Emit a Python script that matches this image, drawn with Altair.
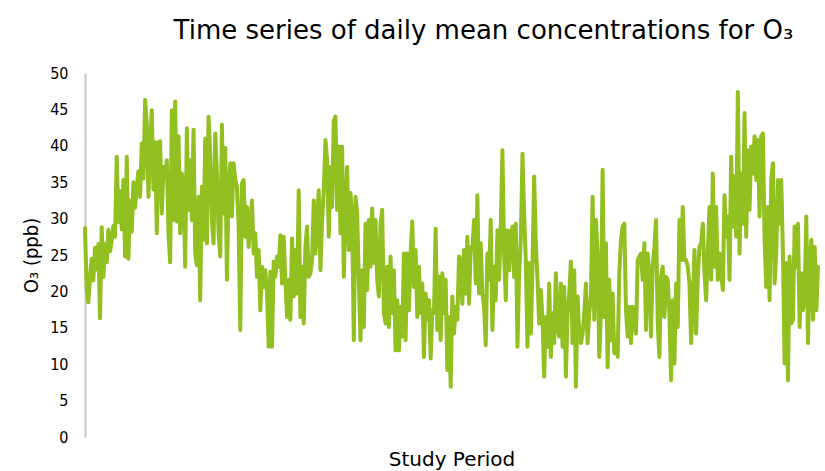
import altair as alt
import pandas as pd

# Daily mean O3 (ppb) over the study period, in order
o3_part1 = [28.7, 20.5, 18.5, 22.0, 24.5, 21.5, 26.0, 23.0, 26.5, 16.3, 28.8, 22.0, 26.5, 24.0, 28.5,
            25.5, 27.0, 29.0, 27.5, 38.5, 29.5, 33.8, 28.5, 35.3, 24.8, 38.5, 24.5, 32.5, 28.2, 35.0,
            31.5, 34.5, 36.5, 33.0, 40.3, 35.5, 46.3, 43.0, 33.0, 40.0, 44.9, 34.0, 40.5, 28.0, 40.5]
o3_part2 = [40.6, 30.7, 37.1, 35.7, 38.0, 28.0, 24.0, 44.9, 29.8, 46.1, 29.6, 41.3, 28.0, 36.2, 34.8,
            23.4, 42.4, 31.2, 38.0, 29.8, 42.2, 25.2, 23.6, 33.0, 18.8, 34.4, 27.1, 41.0, 26.6, 44.0,
            39.0, 29.8, 26.6, 41.7, 36.2, 28.0, 24.8, 42.9, 30.7, 39.7, 21.6, 33.9, 37.6, 30.3, 37.6]
o3_part3 = [35.3, 34.4, 28.9, 14.7, 34.8, 35.3, 27.5, 31.6, 26.1, 29.3, 32.5, 25.2, 28.0, 22.0, 25.7,
            17.4, 23.4, 20.6, 22.9, 19.7, 12.4, 22.7, 12.4, 24.1, 22.0, 24.8, 23.4, 27.7, 21.1, 27.5,
            21.6, 16.5, 21.6, 16.1, 27.3, 19.3, 25.7, 19.7, 33.9, 16.5, 23.4, 15.6, 26.1, 28.9, 22.0]
o3_part4 = [22.5, 24.3, 32.5, 25.2, 29.8, 33.9, 22.9, 29.8, 33.9, 40.8, 38.0, 27.5, 37.1, 31.6, 43.5,
            44.0, 31.2, 39.9, 28.0, 39.9, 22.0, 31.6, 37.1, 25.7, 33.5, 29.8, 13.3, 33.0, 30.7, 21.6,
            13.3, 22.9, 15.1, 29.3, 20.2, 29.8, 23.4, 31.4, 23.9, 29.8, 21.6, 19.3, 29.3, 31.2, 17.0]
o3_part5 = [15.6, 23.4, 15.1, 24.8, 17.0, 22.9, 11.9, 18.8, 11.9, 17.9, 13.8, 25.2, 13.3, 25.2, 17.4,
            25.2, 29.6, 20.6, 25.7, 16.5, 23.4, 17.0, 21.1, 11.0, 19.7, 16.1, 18.8, 10.8, 17.4, 17.0,
            28.6, 14.7, 22.0, 13.3, 22.5, 17.0, 21.6, 9.2, 16.5, 6.9, 19.3, 14.2, 17.9, 16.1, 24.8]
o3_part6 = [24.3, 18.3, 25.7, 19.7, 27.5, 18.3, 26.1, 25.7, 29.8, 21.1, 33.2, 19.7, 26.6, 19.7, 17.9,
            12.6, 25.2, 21.6, 29.8, 14.7, 23.4, 18.8, 28.4, 21.6, 28.9, 39.4, 25.2, 18.8, 28.4, 22.9,
            28.0, 28.9, 22.0, 29.3, 12.4, 22.5, 27.1, 38.9, 30.7, 24.3, 12.4, 23.9, 14.2, 23.4, 35.8]
o3_part7 = [26.6, 21.6, 15.6, 20.2, 16.1, 8.3, 16.5, 12.4, 21.1, 11.0, 17.0, 12.9, 22.5, 15.1, 13.8,
            21.1, 12.4, 20.6, 8.3, 17.0, 19.7, 24.1, 12.9, 22.9, 6.9, 19.3, 14.2, 12.9, 14.2, 17.0,
            21.1, 12.9, 17.0, 19.3, 33.0, 16.1, 29.8, 25.2, 11.0, 17.0, 36.7, 16.5, 26.6, 9.6, 21.6]
o3_part8 = [13.3, 19.7, 11.5, 13.3, 11.0, 22.5, 27.1, 28.9, 29.3, 17.4, 13.8, 17.9, 12.9, 17.9, 16.1,
            14.2, 24.3, 24.8, 25.2, 21.6, 26.6, 14.7, 25.2, 22.5, 13.8, 23.4, 26.1, 29.8, 15.6, 11.0,
            22.0, 23.4, 16.5, 22.0, 21.6, 17.0, 7.8, 18.8, 10.1, 21.1, 15.1, 29.8, 24.3, 31.6, 24.3]
o3_part9 = [24.3, 23.4, 21.1, 12.9, 17.9, 25.7, 14.2, 22.0, 26.1, 26.6, 29.3, 22.5, 18.8, 25.2,
            31.6, 21.6, 36.2, 23.4, 31.6, 21.6, 25.2, 22.5, 20.2, 33.2, 27.5, 30.3, 21.6, 38.5,
            28.9, 35.8, 27.5, 47.4, 25.2, 36.2, 29.3, 44.5, 27.5, 39.4, 31.2, 39.9, 36.2, 41.3]
o3_part10 = [35.3, 40.8, 30.3, 41.3, 41.7, 27.1, 20.6, 31.6, 18.8, 35.3, 37.6, 21.1, 25.2,
             35.3, 29.3, 35.3, 25.2, 10.1, 23.9, 7.8, 24.8, 15.6, 16.1, 28.9, 23.4, 29.3,
             15.1, 22.5, 17.4, 19.7, 30.3, 12.9, 23.9, 27.1, 16.1, 26.1, 17.4, 23.4]

y_ticks = [0, 5, 10, 15, 20, 25, 30, 35, 40, 45, 50]

o3_ppb = (o3_part1 + o3_part2 + o3_part3 + o3_part4 + o3_part5 +
          o3_part6 + o3_part7 + o3_part8 + o3_part9 + o3_part10)
df = pd.DataFrame({"day": list(range(len(o3_ppb))), "o3": o3_ppb})

WIDE = "DejaVu Sans, sans-serif"
NARROW = "DejaVu Sans Condensed, Liberation Sans Narrow, sans-serif"

chart = alt.Chart(df).mark_line(
    color="#92c020", strokeWidth=4, strokeJoin="round", strokeCap="round"
).encode(
    x=alt.X(
        "day:Q",
        scale=alt.Scale(domain=[0, len(o3_ppb) - 1], nice=False, zero=False),
        axis=alt.Axis(
            title="Study Period", labels=False, ticks=False, domain=False, grid=False,
            titleFont=WIDE, titleFontSize=20, titleFontWeight="normal", titleColor="#000000",
            titleBaseline="alphabetic", titleY=28,
        ),
    ),
    y=alt.Y(
        "o3:Q",
        scale=alt.Scale(domain=[0, 50], nice=False),
        axis=alt.Axis(
            values=y_ticks, title="O₃ (ppb)", grid=False, ticks=False,
            domainColor="#c6c6c6", domainWidth=2,
            labelFont=NARROW, labelFontSize=16, labelColor="#000000", labelPadding=17,
            titleFont=NARROW, titleFontSize=20, titleFontWeight="normal", titleColor="#000000",
            titleBaseline="alphabetic", titleX=-48, titleY=182,
        ),
    ),
).properties(
    width=733,
    height=364,
    autosize=alt.AutoSizeParams(type="none"),
    padding={"left": 85, "top": 73, "right": 7, "bottom": 34},
    title=alt.Title(
        "Time series of daily mean concentrations for O₃",
        font=WIDE, fontSize=26, fontWeight="normal", color="#000000",
        anchor="middle", frame="group", baseline="alphabetic", offset=0, dx=32,
    ),
).configure(background="#ffffff").configure_view(stroke=None)

chart.save("out.html", embed_options={"renderer": "svg", "actions": False})
